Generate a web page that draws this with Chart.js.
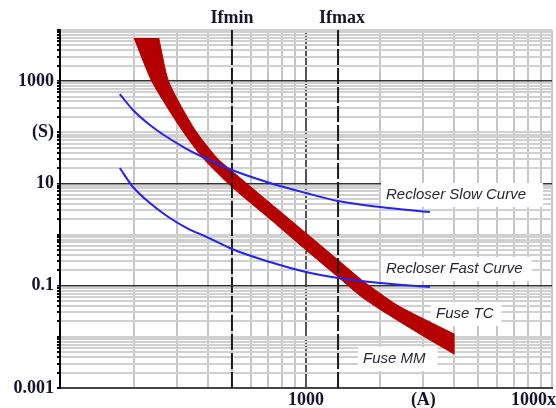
<!DOCTYPE html>
<html>
<head>
<meta charset="utf-8">
<title>Recloser / fuse coordination</title>
<script src="https://cdn.jsdelivr.net/npm/chart.js@4.4.0/dist/chart.umd.min.js"></script>
<style>
  html, body { margin: 0; padding: 0; background: #fff; }
  #wrap { width: 556px; height: 408px; position: relative; }
</style>
</head>
<body>
<div id="wrap"><canvas id="tcc"></canvas></div>
<script>
// current (A) and time (s)
const slowCurrent = [175, 198, 232, 272, 328, 396, 500, 714, 1000, 1350, 2000, 3190];
const slowTime    = [560, 273, 139, 80.9, 47.1, 30.0, 18.3, 10.2, 6.5, 4.53, 3.46, 2.76];
const fastCurrent = [175, 198, 232, 272, 328, 396, 500, 714, 1000, 1350, 2000, 3190];
const fastTime    = [20.0, 8.51, 4.14, 2.31, 1.34, 0.895, 0.522, 0.29, 0.185, 0.142, 0.113, 0.0944];

// fuse band: minimum melting (lower edge) and total clearing (upper edge)
const mmCurrent = [200, 237, 313, 381, 500, 714, 1000, 1350, 1705, 2344, 3190, 4000];
const mmTime    = [7000, 962, 111, 31.4, 8.51, 2.01, 0.499, 0.148, 0.0575, 0.0213, 0.00867, 0.00461];
const tcCurrent = [252, 277, 354, 435, 500, 714, 1000, 1350, 1705, 2344, 3190, 4000];
const tcTime    = [7000, 962, 111, 31.4, 17.5, 4.14, 1.07, 0.318, 0.124, 0.042, 0.0195, 0.0114];

const ifMin = 500;
const ifMax = 1350;

const xRange = [100, 10000];
const yRange = [0.001, 10000];
const xMajor = [1000];
const yMajor = [1000, 10, 0.1];

const yTickValues = [1000, 100, 10, 0.1, 0.001];
const yTickLabels = ['1000', '(S)', '10', '0.1', '0.001'];
const xTickValues = [1000, 3000, 10000];
const xTickLabels = ['1000', '(A)', '1000x'];

const curveLabels = ['Recloser Slow Curve', 'Recloser Fast Curve', 'Fuse TC', 'Fuse MM'];

const SERIF = '"Liberation Serif", "Times New Roman", serif';
const SANS = '"Liberation Sans", Arial, sans-serif';
const INK = '#14142e';

function toPoints(xs, ys) {
    return xs.map((x, i) => ({ x: x, y: ys[i] }));
}

// 1..9 x 10^n grid values between min and max
function logGrid(min, max) {
    const out = [];
    const e0 = Math.round(Math.log10(min));
    const e1 = Math.round(Math.log10(max));
    for (let e = e0; e < e1; e++) {
        for (let m = 1; m < 10; m++) {
            out.push(m * Math.pow(10, e));
        }
    }
    out.push(max);
    return out;
}

function same(a, b) {
    return Math.abs(Math.log10(a) - Math.log10(b)) < 1e-6;
}

function isIn(list, v) {
    return list.some(m => same(m, v));
}

// closed outline of the fuse band; end points doubled so the cut stays square
const mmPts = toPoints(mmCurrent, mmTime);
const tcPts = toPoints(tcCurrent, tcTime).reverse();
const bandPts = mmPts.concat([mmPts[mmPts.length - 1], tcPts[0]], tcPts);

const textPlugin = {
    id: 'tccText',
    beforeDatasetsDraw(chart) {
        const ctx = chart.ctx;
        const spots = [
            [386, 195, 12], [386, 269, 4], [436, 314, 3], [363, 359, 7]
        ];
        ctx.save();
        ctx.font = 'italic 15px ' + SANS;
        ctx.textBaseline = 'middle';
        curveLabels.forEach((text, i) => {
            const [x, y, extra] = spots[i];
            const w = ctx.measureText(text).width;
            ctx.fillStyle = '#fff';
            ctx.fillRect(x - 5, y - 12, w + 10 + extra, 24);
            ctx.fillStyle = '#262636';
            ctx.fillText(text, x, y);
        });
        ctx.restore();
    },
    afterDraw(chart) {
        const { ctx, chartArea, scales } = chart;
        ctx.save();
        ctx.font = 'bold 18px ' + SERIF;
        ctx.fillStyle = INK;
        ctx.textBaseline = 'middle';
        ctx.textAlign = 'center';
        ctx.fillText('Ifmin', scales.x.getPixelForValue(ifMin), 18);
        ctx.fillText('Ifmax', scales.x.getPixelForValue(ifMax) + 4, 18);

        xTickValues.forEach((v, i) => {
            const last = i === xTickValues.length - 1;
            ctx.textAlign = last ? 'right' : 'center';
            const px = last ? chart.width : scales.x.getPixelForValue(v);
            ctx.fillText(xTickLabels[i], px, chartArea.bottom + 12);
        });
        ctx.restore();
    }
};

const lineBase = {
    showLine: true,
    pointRadius: 0,
    fill: false
};

new Chart(document.getElementById('tcc'), {
    type: 'scatter',
    data: {
        datasets: [
            Object.assign({}, lineBase, {
                label: 'Recloser Slow Curve',
                data: toPoints(slowCurrent, slowTime),
                borderColor: '#2323f5',
                borderWidth: 2,
                cubicInterpolationMode: 'monotone'
            }),
            Object.assign({}, lineBase, {
                label: 'Recloser Fast Curve',
                data: toPoints(fastCurrent, fastTime),
                borderColor: '#2323f5',
                borderWidth: 2,
                cubicInterpolationMode: 'monotone'
            }),
            Object.assign({}, lineBase, {
                label: 'Ifmin',
                data: [{ x: ifMin, y: yRange[0] }, { x: ifMin, y: yRange[1] }],
                borderColor: '#1a1a1a',
                borderWidth: 2,
                borderDash: [16, 3]
            }),
            Object.assign({}, lineBase, {
                label: 'Ifmax',
                data: [{ x: ifMax, y: yRange[0] }, { x: ifMax, y: yRange[1] }],
                borderColor: '#1a1a1a',
                borderWidth: 2,
                borderDash: [16, 3]
            }),
            Object.assign({}, lineBase, {
                label: 'Fuse',
                data: bandPts,
                borderColor: '#b40000',
                backgroundColor: '#b40000',
                borderWidth: 1,
                tension: 0.22,
                fill: 'shape'
            })
        ]
    },
    options: {
        responsive: true,
        maintainAspectRatio: false,
        animation: false,
        devicePixelRatio: 1,
        layout: { padding: { top: 30, right: 4, left: 0, bottom: 0 } },
        plugins: {
            legend: { display: false },
            tooltip: { enabled: false }
        },
        scales: {
            x: {
                type: 'logarithmic',
                min: xRange[0],
                max: xRange[1],
                afterBuildTicks: s => { s.ticks = logGrid(xRange[0], xRange[1]).map(v => ({ value: v })); },
                afterFit: s => { s.height = 20; },
                ticks: { display: false, autoSkip: false },
                grid: {
                    drawTicks: false,
                    color: c => (c.tick && isIn(xMajor, c.tick.value)) ? '#555' : '#c6c6c6',
                    lineWidth: 2
                },
                border: { color: '#444', width: 2 }
            },
            y: {
                type: 'logarithmic',
                min: yRange[0],
                max: yRange[1],
                afterBuildTicks: s => { s.ticks = logGrid(yRange[0], yRange[1]).map(v => ({ value: v })); },
                afterFit: s => { s.width = 60; },
                ticks: {
                    autoSkip: false,
                    padding: 3,
                    color: INK,
                    font: { family: SERIF, size: 18, weight: 'bold' },
                    callback: v => {
                        const i = yTickValues.findIndex(t => same(t, v));
                        return i < 0 ? '' : yTickLabels[i];
                    }
                },
                grid: {
                    drawTicks: true,
                    tickLength: 3,
                    tickColor: '#000',
                    color: c => (c.tick && isIn(yMajor, c.tick.value)) ? '#333' : '#d0d0d0',
                    lineWidth: c => (c.tick && isIn(yMajor, c.tick.value)) ? 1.5 : 2
                },
                border: { color: '#000', width: 2 }
            }
        }
    },
    plugins: [textPlugin]
});
</script>
</body>
</html>
